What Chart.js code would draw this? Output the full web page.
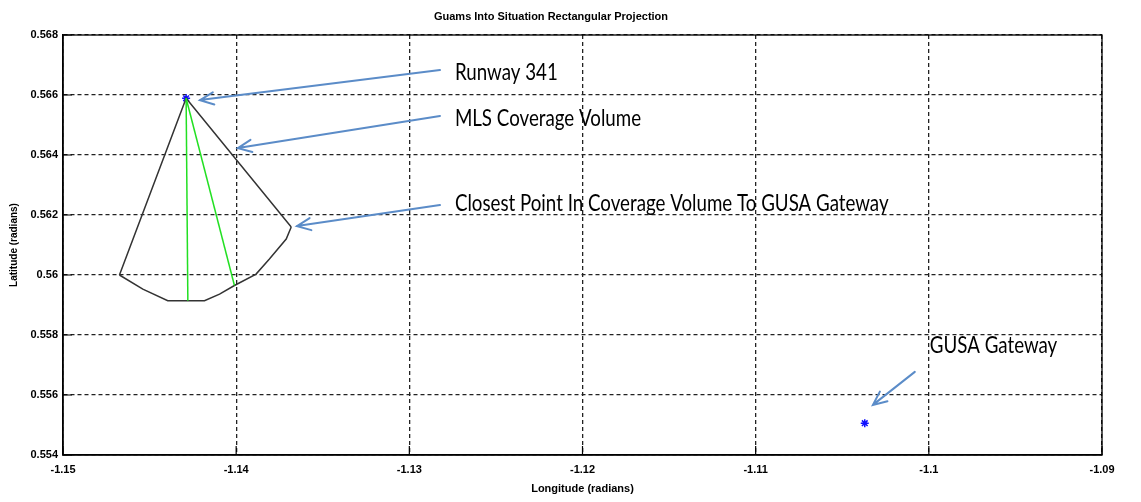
<!DOCTYPE html>
<html>
<head>
<meta charset="utf-8">
<script src="https://cdn.jsdelivr.net/npm/chart.js@4.4.1/dist/chart.umd.min.js"></script>
<style>
html,body{margin:0;padding:0;background:#ffffff;}
#wrap{width:1141px;height:502px;position:relative;}
</style>
</head>
<body>
<div id="wrap"><canvas id="c" width="1141" height="502"></canvas></div>
<script>
// ---- data (radians) ----
const xTickValues = [-1.15, -1.14, -1.13, -1.12, -1.11, -1.1, -1.09];
const yTickValues = [0.554, 0.556, 0.558, 0.56, 0.562, 0.564, 0.566, 0.568];

// coverage volume edges: right corner -> runway apex -> left corner
const edgeLon = [-1.13682, -1.14289, -1.14674];
const edgeLat = [0.56160, 0.56589, 0.56000];
// coverage volume far arc: left corner -> right corner
const arcLon = [-1.14674, -1.14539, -1.14395, -1.14183, -1.14096, -1.14010, -1.13885, -1.13808, -1.13711, -1.13682];
const arcLat = [0.56000, 0.55953, 0.55914, 0.55914, 0.55936, 0.55965, 0.56003, 0.56053, 0.56120, 0.56160];
// green radials
const radial1Lon = [-1.14289, -1.14279];
const radial1Lat = [0.56589, 0.55914];
const radial2Lon = [-1.14289, -1.14010];
const radial2Lat = [0.56589, 0.55965];
// markers
const runwayLon = [-1.14289];
const runwayLat = [0.56589];
const gatewayLon = [-1.10370];
const gatewayLat = [0.55506];

const chartTitle = 'Guams Into Situation Rectangular Projection';
const xAxisTitle = 'Longitude (radians)';
const yAxisTitle = 'Latitude (radians)';

// callouts (text anchor left-middle, arrow tail -> tip), in data coordinates
const callouts = [
  {text: 'Runway 341', at: [-1.12737, 0.56677], tail: [-1.12823, 0.56683], tip: [-1.14209, 0.56583]},
  {text: 'MLS Coverage Volume', at: [-1.12737, 0.56523], tail: [-1.12823, 0.56530], tip: [-1.13990, 0.56423]},
  {text: 'Closest Point In Coverage Volume To GUSA Gateway', at: [-1.12737, 0.56240], tail: [-1.12823, 0.56233], tip: [-1.13649, 0.56163]},
  {text: 'GUSA Gateway', at: [-1.09994, 0.55767], tail: [-1.10081, 0.55677], tip: [-1.10323, 0.55567]}
];

function pts(xs, ys) { return xs.map((x, i) => ({x: x, y: ys[i]})); }

const tickFont = {family: 'Liberation Sans', size: 11, weight: 'bold'};

const framePlugin = {
  id: 'frame',
  afterDraw(chart) {
    const ctx = chart.ctx, a = chart.chartArea;
    const xs = chart.scales.x, ys = chart.scales.y;
    ctx.save();
    ctx.strokeStyle = '#000';
    ctx.lineWidth = 1.3;
    ctx.setLineDash([]);
    ctx.strokeRect(a.left, a.top, a.right - a.left, a.bottom - a.top);
    ctx.lineWidth = 1.2;
    ctx.beginPath();
    xTickValues.forEach(v => {
      const px = xs.getPixelForValue(v);
      ctx.moveTo(px, a.bottom); ctx.lineTo(px, a.bottom - 9);
    });
    yTickValues.forEach(v => {
      const py = ys.getPixelForValue(v);
      ctx.moveTo(a.left, py); ctx.lineTo(a.left + 9, py);
    });
    ctx.stroke();
    ctx.restore();
  }
};

const calloutPlugin = {
  id: 'callouts',
  afterDraw(chart) {
    const ctx = chart.ctx;
    const xs = chart.scales.x, ys = chart.scales.y;
    const P = d => [xs.getPixelForValue(d[0]), ys.getPixelForValue(d[1])];
    ctx.save();
    callouts.forEach(c => {
      const [tx, ty] = P(c.tail), [hx, hy] = P(c.tip);
      ctx.strokeStyle = '#5b8cc8';
      ctx.lineWidth = 2;
      ctx.lineCap = 'round';
      ctx.beginPath();
      ctx.moveTo(tx, ty); ctx.lineTo(hx, hy);
      const ang = Math.atan2(ty - hy, tx - hx);
      const L = 15, s = 0.42;
      ctx.moveTo(hx + L * Math.cos(ang + s), hy + L * Math.sin(ang + s));
      ctx.lineTo(hx, hy);
      ctx.lineTo(hx + L * Math.cos(ang - s), hy + L * Math.sin(ang - s));
      ctx.stroke();
      const [ax, ay] = P(c.at);
      ctx.save();
      ctx.translate(ax, ay);
      ctx.scale(0.78, 1);
      ctx.fillStyle = '#000';
      ctx.font = '24px Lato';
      ctx.textBaseline = 'middle';
      ctx.textAlign = 'left';
      ctx.fillText(c.text, 0, 0);
      ctx.restore();
    });
    ctx.restore();
  }
};

const lineDs = (data, color) => ({
  data: data, showLine: true, borderColor: color, borderWidth: 1.5,
  pointRadius: 0, tension: 0, fill: false
});

new Chart(document.getElementById('c'), {
  type: 'scatter',
  data: {
    datasets: [
      lineDs(pts(radial1Lon, radial1Lat), '#22e022'),
      lineDs(pts(radial2Lon, radial2Lat), '#22e022'),
      lineDs(pts(edgeLon, edgeLat), '#333333'),
      lineDs(pts(arcLon, arcLat), '#333333'),
      {data: pts(runwayLon, runwayLat), pointStyle: 'star', pointRadius: 4, borderColor: '#1010ff', borderWidth: 1.5, backgroundColor: '#1010ff'},
      {data: pts(gatewayLon, gatewayLat), pointStyle: 'star', pointRadius: 4, borderColor: '#1010ff', borderWidth: 1.5, backgroundColor: '#1010ff'}
    ]
  },
  options: {
    responsive: false,
    animation: false,
    devicePixelRatio: 1,
    layout: {padding: {left: 0, right: 39, top: 0, bottom: 0}},
    plugins: {
      legend: {display: false},
      tooltip: {enabled: false},
      title: {
        display: true, text: chartTitle, color: '#000',
        font: {family: 'Liberation Sans', size: 11, weight: 'bold', lineHeight: 1.2},
        padding: {top: 10, bottom: 11.8}
      }
    },
    scales: {
      x: {
        type: 'linear', position: 'bottom',
        min: xTickValues[0], max: xTickValues[xTickValues.length - 1],
        afterBuildTicks: s => { s.ticks = xTickValues.map(v => ({value: v})); },
        afterFit: s => { s.height = 47; },
        ticks: {callback: v => String(+(+v).toFixed(2)), padding: 8, font: tickFont, color: '#000', maxRotation: 0, autoSkip: false},
        grid: {color: '#222', lineWidth: 1.3, drawTicks: false},
        border: {display: true, color: '#000', width: 1.5, dash: [4, 3]},
        title: {display: true, text: xAxisTitle, color: '#000', font: {family: 'Liberation Sans', size: 11, weight: 'bold'}, padding: {top: 0, bottom: 6}}
      },
      y: {
        type: 'linear', position: 'left',
        min: yTickValues[0], max: yTickValues[yTickValues.length - 1],
        afterBuildTicks: s => { s.ticks = yTickValues.map(v => ({value: v})); },
        afterFit: s => { s.width = 63; },
        ticks: {callback: v => String(+(+v).toFixed(3)), padding: 5, font: tickFont, color: '#000', autoSkip: false},
        grid: {color: '#222', lineWidth: 1.3, drawTicks: false},
        border: {display: true, color: '#000', width: 1.5, dash: [4, 3]},
        title: {display: true, text: yAxisTitle, color: '#000', font: {family: 'Liberation Sans', size: 10, weight: 'bold'}, padding: {top: 8, bottom: 0}}
      }
    }
  },
  plugins: [framePlugin, calloutPlugin]
});
</script>
</body>
</html>
